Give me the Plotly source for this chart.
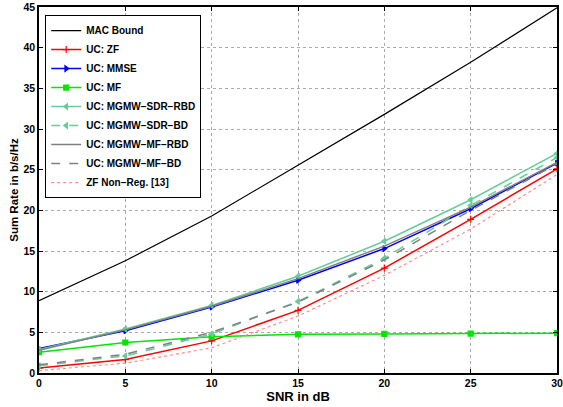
import plotly.graph_objects as go

snr = [0, 5, 10, 15, 20, 25, 30]
mac_bound = [8.9, 13.8, 19.3, 25.5, 31.8, 38.2, 44.9]
uc_zf = [0.6, 1.65, 3.95, 7.7, 12.9, 18.9, 25.1]
uc_mmse = [3.0, 5.2, 8.1, 11.4, 15.3, 20.2, 25.8]
uc_mf = [2.55, 3.75, 4.45, 4.75, 4.8, 4.85, 4.9]
sdr_rbd = [2.9, 5.4, 8.3, 11.9, 16.2, 21.3, 27.0]
sdr_bd = [0.9, 2.1, 4.8, 8.8, 14.1, 20.6, 26.5]
mf_rbd = [2.8, 5.3, 8.2, 11.6, 15.6, 20.4, 25.9]
mf_bd = [1.0, 2.3, 5.0, 8.7, 13.9, 20.0, 25.7]
zf_nonreg = [0.3, 1.2, 3.1, 7.0, 12.0, 17.7, 24.4]

mint = "rgb(102,204,153)"
gray = "rgb(128,128,128)"

series = [
    ("MAC Bound", mac_bound, "black", "solid", None, 1.2),
    ("UC: ZF", uc_zf, "red", "solid", "cross-thin", 1.5),
    ("UC: MMSE", uc_mmse, "blue", "solid", "triangle-right", 1.5),
    ("UC: MF", uc_mf, "rgb(0,230,0)", "solid", "square", 1.5),
    ("UC: MGMW\u2212SDR\u2212RBD", sdr_rbd, mint, "solid", "triangle-left", 1.5),
    ("UC: MGMW\u2212SDR\u2212BD", sdr_bd, mint, "dash", "triangle-left", 1.5),
    ("UC: MGMW\u2212MF\u2212RBD", mf_rbd, gray, "solid", None, 1.5),
    ("UC: MGMW\u2212MF\u2212BD", mf_bd, gray, "dash", None, 1.5),
    ("ZF Non\u2212Reg. [13]", zf_nonreg, "rgb(255,140,140)", "dot", None, 1.2),
]

fig = go.Figure()
for name, ys, col, dash, sym, lw in series:
    kw = dict(mode="lines")
    if sym:
        kw = dict(mode="lines+markers",
                  marker=dict(symbol=sym, size=5, color=col,
                              line=dict(color=col, width=1.2)))
    fig.add_trace(go.Scatter(x=snr, y=ys, name=name,
                             line=dict(color=col, width=lw, dash=dash), **kw))

font = dict(family="Liberation Sans", size=10.5, color="black", weight="bold")
axis_common = dict(showgrid=True, gridcolor="rgb(170,170,170)", griddash="dot",
                   gridwidth=1, showline=True, linecolor="black", linewidth=1.5,
                   mirror="ticks", ticks="inside", ticklen=4, tickcolor="black",
                   zeroline=False, tickfont=font, automargin=False)
fig.update_layout(
    width=563, height=407,
    margin=dict(l=39, r=6, t=7, b=34),
    paper_bgcolor="white", plot_bgcolor="white",
    xaxis=dict(range=[0, 30], dtick=5,
               title=dict(text="SNR in dB", font=dict(family="Liberation Sans", size=13, color="black", weight="bold"), standoff=0),
               **axis_common),
    yaxis=dict(range=[0, 45], dtick=5,
               title=dict(text="Sum Rate in b/s/Hz", font=dict(family="Liberation Sans", size=11.5, color="black", weight="bold"), standoff=2),
               **axis_common),
    legend=dict(x=0.012, y=0.978, xanchor="left", yanchor="top",
                bgcolor="white", bordercolor="black", borderwidth=1,
                font=dict(family="Liberation Sans", size=10, color="black", weight="bold"),
                tracegroupgap=0, itemwidth=30),
    showlegend=True,
)
fig.write_html("out.html", config={"displayModeBar": False},
               post_script="document.body.style.margin='0';document.body.style.overflow='hidden';")
